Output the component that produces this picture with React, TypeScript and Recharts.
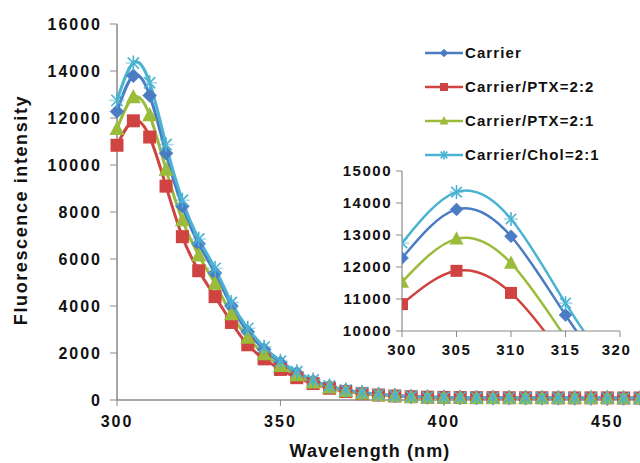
import React from 'react';
import { LineChart, Line, XAxis, YAxis } from 'recharts';

const wavelengths = [300, 305, 310, 315, 320, 325, 330, 335, 340, 345, 350, 355, 360, 365, 370, 375, 380, 385, 390, 395, 400, 405, 410, 415, 420, 425, 430, 435, 440, 445, 450, 455, 460];
const carrier = [12280, 13800, 12960, 10500, 8250, 6650, 5400, 4000, 2900, 2150, 1580, 1150, 800, 570, 410, 300, 230, 180, 140, 120, 105, 100, 95, 95, 90, 90, 90, 85, 85, 85, 80, 80, 80];
const ptx22 = [10840, 11880, 11190, 9100, 6950, 5500, 4400, 3300, 2350, 1750, 1300, 950, 700, 500, 360, 270, 210, 170, 140, 120, 110, 105, 100, 100, 95, 95, 95, 90, 90, 90, 90, 85, 85];
const ptx21 = [11530, 12880, 12120, 9800, 7650, 6150, 4950, 3650, 2650, 1950, 1450, 1050, 740, 530, 380, 280, 210, 165, 130, 110, 100, 95, 90, 90, 85, 85, 85, 80, 80, 80, 80, 75, 75];
const chol = [12750, 14340, 13500, 10870, 8500, 6850, 5600, 4150, 3050, 2250, 1650, 1200, 850, 600, 430, 320, 240, 190, 150, 130, 115, 110, 105, 100, 100, 95, 95, 95, 90, 90, 90, 85, 85];

const seriesNames = ['Carrier', 'Carrier/PTX=2:2', 'Carrier/PTX=2:1', 'Carrier/Chol=2:1'];
const seriesKeys = ['carrier', 'ptx22', 'ptx21', 'chol'];
const seriesColors = ['#4a7cc4', '#cf4440', '#9bbb3a', '#4bb3d2'];
const seriesMarkers = ['diamond', 'square', 'triangle', 'asterisk'];

const mainTicksX = [300, 350, 400, 450];
const mainTicksY = [0, 2000, 4000, 6000, 8000, 10000, 12000, 14000, 16000];
const insetTicksX = [300, 305, 310, 315, 320];
const insetTicksY = [10000, 11000, 12000, 13000, 14000, 15000];

const xTitle = 'Wavelength (nm)';
const yTitle = 'Fluorescence intensity';

const data = wavelengths.map((w, i) => ({
  w,
  carrier: carrier[i],
  ptx22: ptx22[i],
  ptx21: ptx21[i],
  chol: chol[i],
}));
const insetData = data.filter((d) => d.w <= 330);

const FONT = '"Liberation Sans", Arial, Helvetica, sans-serif';

function marker(kind: string, color: string, cx: number, cy: number, s: number, key?: any) {
  if (kind === 'diamond') {
    return <path key={key} d={`M${cx},${cy - s} L${cx + s},${cy} L${cx},${cy + s} L${cx - s},${cy} Z`} fill={color} stroke={color} strokeWidth={0.5} />;
  }
  if (kind === 'square') {
    return <rect key={key} x={cx - s} y={cy - s} width={2 * s} height={2 * s} fill={color} />;
  }
  if (kind === 'triangle') {
    return <path key={key} d={`M${cx},${cy - s * 1.1} L${cx + s},${cy + s * 0.8} L${cx - s},${cy + s * 0.8} Z`} fill={color} />;
  }
  const d = s * 0.75;
  return (
    <g key={key} stroke={color} strokeWidth={1.6} fill="none">
      <line x1={cx} y1={cy - s} x2={cx} y2={cy + s} />
      <line x1={cx - d} y1={cy - d} x2={cx + d} y2={cy + d} />
      <line x1={cx - d} y1={cy + d} x2={cx + d} y2={cy - d} />
      <line x1={cx - s} y1={cy} x2={cx + s} y2={cy} strokeOpacity={0.5} />
    </g>
  );
}

const mainSizes: Record<string, number> = { diamond: 7, square: 6.5, triangle: 7.5, asterisk: 7.5 };
const insetSizes: Record<string, number> = { diamond: 6.5, square: 6, triangle: 7, asterisk: 7 };
const legendSizes: Record<string, number> = { diamond: 4, square: 4, triangle: 4.5, asterisk: 4.5 };

function makeDot(kind: string, color: string, sizes: Record<string, number>) {
  return (props: any) => {
    const { cx, cy, index } = props;
    if (cx == null || cy == null || isNaN(cx) || isNaN(cy)) return <g key={`e-${index}`} />;
    return marker(kind, color, cx, cy, sizes[kind], `d-${index}`);
  };
}

const tickStyle = { fontSize: 16, fontWeight: 'bold', fill: '#111', fontFamily: FONT, letterSpacing: 2 } as any;
const insetTickStyle = { fontSize: 15, fontWeight: 'bold', fill: '#111', fontFamily: FONT, letterSpacing: 1.5 } as any;
const axisColor = '#8a8a8a';

export default function App() {
  return (
    <div style={{ position: 'absolute', left: 0, top: 0, width: 640, height: 463, background: '#fff', overflow: 'hidden', fontFamily: FONT }}>
      <div style={{ position: 'absolute', left: 0, top: 0 }}>
        <LineChart width={640} height={463} data={data} margin={{ top: 24, right: 0, left: 0, bottom: 0 }}>
          <XAxis
            dataKey="w"
            type="number"
            domain={[300, 460]}
            ticks={mainTicksX}
            tick={tickStyle}
            tickSize={6}
            tickMargin={10}
            height={63}
            stroke={axisColor}
            tickLine={{ stroke: axisColor }}
            axisLine={{ stroke: axisColor, strokeWidth: 1.5 }}
          />
          <YAxis
            type="number"
            domain={[0, 16000]}
            ticks={mainTicksY}
            tick={tickStyle}
            tickSize={7}
            tickMargin={8}
            width={117}
            interval={0}
            stroke={axisColor}
            tickLine={{ stroke: axisColor }}
            axisLine={{ stroke: axisColor, strokeWidth: 1.5 }}
          />
          {seriesKeys.map((k, i) => (
            <Line
              key={k}
              dataKey={k}
              name={seriesNames[i]}
              type="natural"
              stroke={seriesColors[i]}
              strokeWidth={3}
              dot={makeDot(seriesMarkers[i], seriesColors[i], mainSizes)}
              activeDot={false}
              isAnimationActive={false}
            />
          ))}
        </LineChart>
      </div>

      <div style={{ position: 'absolute', left: 330, top: 160 }}>
        <LineChart width={300} height={200} data={insetData} margin={{ top: 11, right: 10, left: 0, bottom: 0 }}>
          <XAxis
            dataKey="w"
            type="number"
            domain={[300, 320]}
            allowDataOverflow
            ticks={insetTicksX}
            tick={insetTickStyle}
            tickSize={6}
            tickMargin={7}
            height={29}
            stroke={axisColor}
            tickLine={{ stroke: axisColor }}
            axisLine={{ stroke: axisColor, strokeWidth: 1.2 }}
          />
          <YAxis
            type="number"
            domain={[10000, 15000]}
            allowDataOverflow
            ticks={insetTicksY}
            interval={0}
            tick={insetTickStyle}
            tickSize={6}
            tickMargin={4}
            width={72}
            stroke={axisColor}
            tickLine={{ stroke: axisColor }}
            axisLine={{ stroke: axisColor, strokeWidth: 1.2 }}
          />
          {seriesKeys.map((k, i) => (
            <Line
              key={k}
              dataKey={k}
              name={seriesNames[i]}
              type="natural"
              stroke={seriesColors[i]}
              strokeWidth={2.5}
              dot={makeDot(seriesMarkers[i], seriesColors[i], insetSizes)}
              activeDot={false}
              isAnimationActive={false}
            />
          ))}
        </LineChart>
      </div>

      {/* Legend */}
      <div style={{ position: 'absolute', left: 424, top: 36 }}>
        {seriesNames.map((n, i) => (
          <div key={n} style={{ display: 'flex', alignItems: 'center', height: 34 }}>
            <svg width={40} height={14} style={{ display: 'block' }}>
              <line x1={1} y1={7} x2={39} y2={7} stroke={seriesColors[i]} strokeWidth={2.5} />
              {marker(seriesMarkers[i], seriesColors[i], 20, 7, legendSizes[seriesMarkers[i]])}
            </svg>
            <span style={{ fontSize: 15, fontWeight: 'bold', letterSpacing: 1.1, color: '#111', marginLeft: 1, whiteSpace: 'nowrap', lineHeight: '14px' }}>{n}</span>
          </div>
        ))}
      </div>

      {/* Axis titles */}
      <div
        style={{
          position: 'absolute',
          left: 370,
          top: 451,
          transform: 'translate(-50%, -50%)',
          fontSize: 18,
          fontWeight: 'bold',
          letterSpacing: 1.1,
          color: '#111',
          whiteSpace: 'nowrap',
        }}
      >
        {xTitle}
      </div>
      <div
        style={{
          position: 'absolute',
          left: 21,
          top: 210,
          transform: 'translate(-50%, -50%) rotate(-90deg)',
          fontSize: 18,
          fontWeight: 'bold',
          letterSpacing: 1.6,
          color: '#111',
          whiteSpace: 'nowrap',
        }}
      >
        {yTitle}
      </div>
    </div>
  );
}
